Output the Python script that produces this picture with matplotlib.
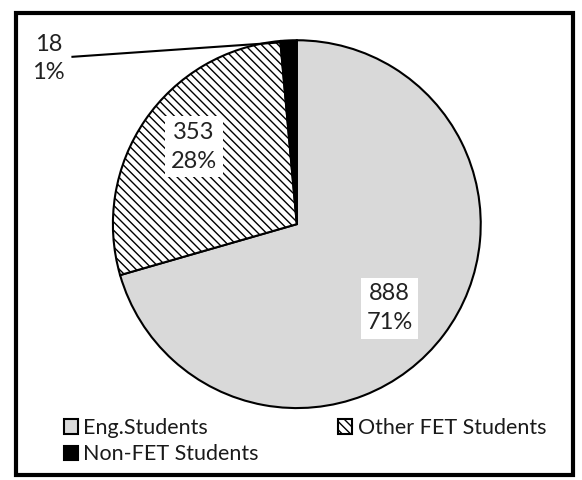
import matplotlib

matplotlib.use("Agg")
import matplotlib.pyplot as plt
from matplotlib.patches import Rectangle

labels = ["Eng.Students", "Other FET Students", "Non-FET Students"]
counts = [888, 353, 18]
percents = ["71%", "28%", "1%"]
colors = ["#d9d9d9", "white", "black"]
hatches = ["", "\\\\\\\\", ""]

plt.rcParams["font.family"] = ["Lato", "DejaVu Sans"]
plt.rcParams["hatch.linewidth"] = 1.0

fig = plt.figure(figsize=(5.82, 4.8), dpi=100)
ax = fig.add_axes([0.115, 0.054, 0.79, 0.958])
wedges, _ = ax.pie(counts, colors=colors, startangle=90, counterclock=False,
                   wedgeprops=dict(edgecolor="black", linewidth=1.5))
for w, h in zip(wedges, hatches):
    w.set_hatch(h)
ax.set_xlim(-1.25, 1.25)
ax.set_ylim(-1.25, 1.25)
ax.set_aspect("equal")

box = dict(facecolor="white", edgecolor="none", pad=4)
ax.text(0.505, -0.457, f"{counts[0]}\n{percents[0]}", ha="center", va="center",
        fontsize=17, color="#222222", bbox=box, linespacing=1.45)
ax.text(-0.56, 0.42, f"{counts[1]}\n{percents[1]}", ha="center", va="center",
        fontsize=17, color="#222222", bbox=box, linespacing=1.45)
ax.text(-1.35, 0.90, f"{counts[2]}\n{percents[2]}", ha="center", va="center",
        fontsize=17, color="#222222", linespacing=1.45)
ax.plot([-1.22, -0.065], [0.91, 0.99], color="black", lw=1.5, clip_on=False)

# legend fills column-first, so order handles to read row by row
order = [0, 2, 1]
leg = fig.legend([wedges[i] for i in order], [labels[i] for i in order], ncol=2,
                 loc="lower left", bbox_to_anchor=(0.091, 0.01), frameon=False,
                 borderpad=0, fontsize=15.5, handlelength=0.65, handleheight=0.65,
                 handletextpad=0.25, columnspacing=3.7, labelspacing=0.3)
for t in leg.get_texts():
    t.set_color("#1a1a1a")

fig.patches.append(Rectangle((0.027, 0.01), 0.958, 0.963, transform=fig.transFigure,
                             fill=False, edgecolor="black", linewidth=3))

fig.savefig("out.png", dpi=100)
